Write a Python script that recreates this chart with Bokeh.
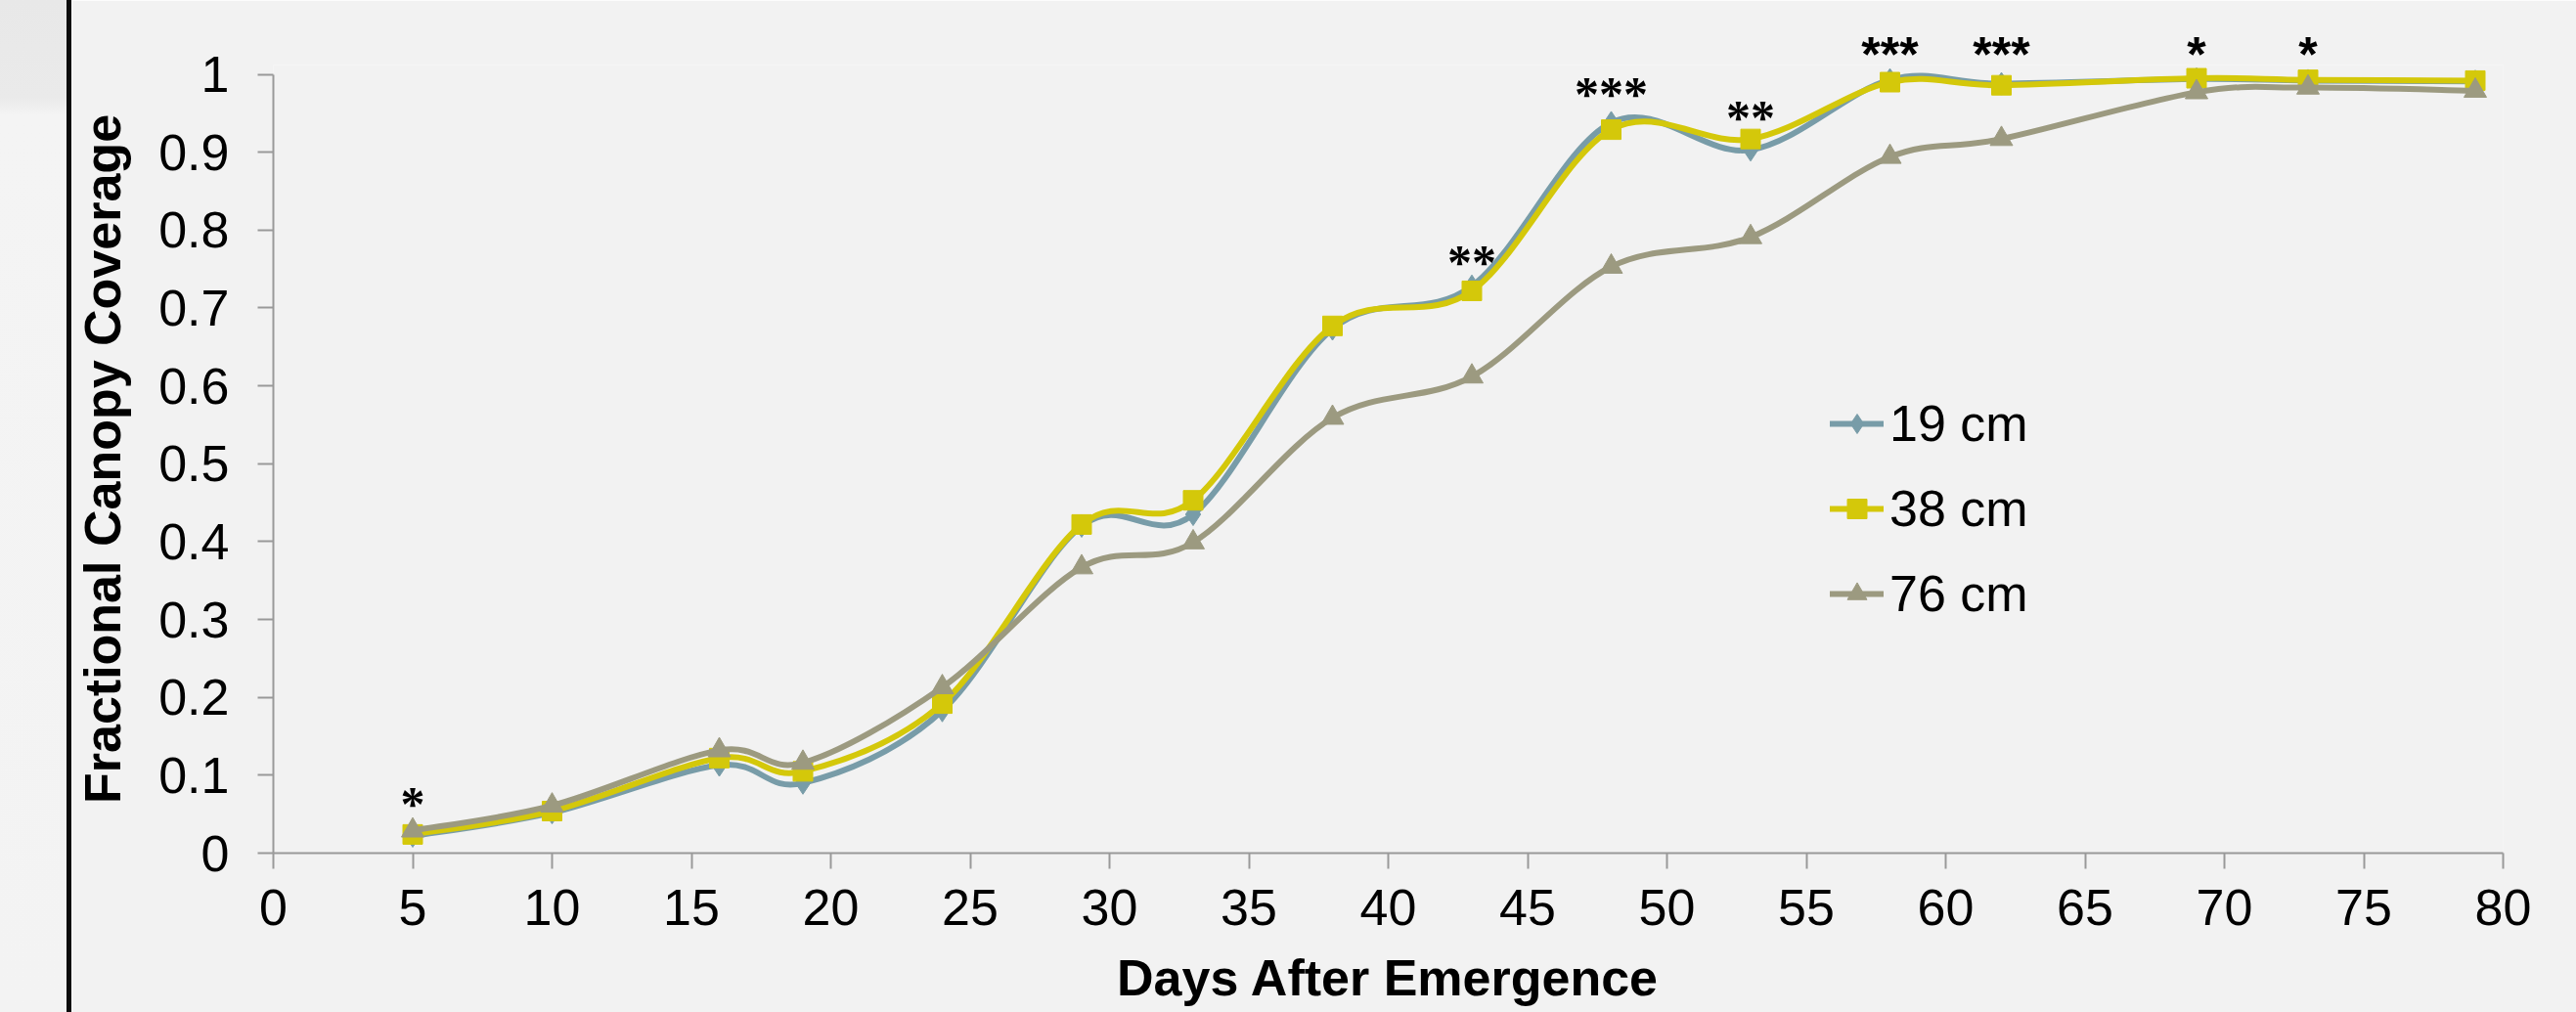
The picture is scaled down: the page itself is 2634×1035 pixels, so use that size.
import numpy as np
from bokeh.plotting import figure
from bokeh.models import (Range1d, FixedTicker, Legend, LegendItem, LinearAxis,
                          ColumnDataSource, LabelSet, Div)
from bokeh.layouts import row
from bokeh.embed import file_html
from bokeh.resources import INLINE

# ---------------- data ----------------
days = [5, 10, 16, 19, 24, 29, 33, 38, 43, 48, 53, 58, 62, 69, 73, 79]
cov_19cm = [0.022, 0.052, 0.113, 0.090, 0.183, 0.420, 0.435, 0.673, 0.728,
            0.938, 0.903, 0.993, 0.988, 0.994, 0.992, 0.991]
cov_38cm = [0.024, 0.054, 0.122, 0.105, 0.192, 0.422, 0.453, 0.677, 0.722,
            0.929, 0.917, 0.990, 0.986, 0.995, 0.993, 0.992]
cov_76cm = [0.029, 0.061, 0.132, 0.116, 0.213, 0.367, 0.399, 0.559, 0.612,
            0.753, 0.791, 0.894, 0.917, 0.977, 0.983, 0.979]

series_labels = ["19 cm", "38 cm", "76 cm"]
series_colors = ["#789ca8", "#d4c80a", "#9c9a80"]
series_markers = ["diamond", "square", "triangle"]

sig_days = [5, 43, 48, 53, 58, 62, 69, 73]
sig_text = ["*", "**", "***", "**", "***", "***", "*", "*"]
sig_y = [0.072, 0.768, 0.984, 0.954, 1.032, 1.028, 1.038, 1.040]

x_ticks = [0, 5, 10, 15, 20, 25, 30, 35, 40, 45, 50, 55, 60, 65, 70, 75, 80]
y_ticks = [0, 0.1, 0.2, 0.3, 0.4, 0.5, 0.6, 0.7, 0.8, 0.9, 1]
y_tick_labels = ["0", "0.1", "0.2", "0.3", "0.4", "0.5", "0.6", "0.7", "0.8", "0.9", "1"]

x_title = "Days After Emergence"
y_title = "Fractional Canopy Coverage"

FONT = "Liberation Sans"
BG = "#f2f2f2"
AX = "#999999"
marker_sizes = {"diamond": 23, "square": 20, "triangle": 23}
Y_TOP = 1.012


def smooth_source(xs, ys):
    """Bezier control points (Catmull-Rom style smoothing, like a smoothed line)."""
    P = np.column_stack([xs, ys]).astype(float)
    n = len(P)
    Pm = np.vstack([P[0], P, P[-1]])
    c0 = P[:-1] + (Pm[2:n + 1] - Pm[0:n - 1]) / 6.0
    c1 = P[1:] - (Pm[3:n + 2] - Pm[1:n]) / 6.0
    return ColumnDataSource(dict(
        x0=P[:-1, 0], y0=P[:-1, 1], x1=P[1:, 0], y1=P[1:, 1],
        cx0=c0[:, 0], cy0=c0[:, 1], cx1=c1[:, 0], cy1=c1[:, 1]))


fig = figure(width=2561, height=1035, output_backend="svg", toolbar_location=None,
             x_range=Range1d(0, 80), y_range=Range1d(0, Y_TOP),
             min_border_left=203, min_border_right=75,
             min_border_top=66, min_border_bottom=163)
fig.background_fill_color = BG
fig.border_fill_color = BG
fig.outline_line_color = None
fig.xgrid.visible = False
fig.ygrid.visible = False

items = []
for vals, lab, col, mk in zip([cov_19cm, cov_38cm, cov_76cm], series_labels,
                              series_colors, series_markers):
    bz = fig.bezier(x0="x0", y0="y0", x1="x1", y1="y1", cx0="cx0", cy0="cy0",
                    cx1="cx1", cy1="cy1", source=smooth_source(days, vals),
                    line_color=col, line_width=6, line_cap="round")
    sc = fig.scatter(days, vals, marker=mk, size=marker_sizes[mk],
                     fill_color=col, line_color=col, line_width=1)
    items.append(LegendItem(label=lab, renderers=[bz, sc]))

legend = Legend(items=items, location=(1592, 235), orientation="vertical",
                border_line_color=None, background_fill_alpha=0,
                padding=0, margin=0, spacing=27, glyph_width=55, glyph_height=50,
                label_height=60, label_standoff=6,
                label_text_font=FONT, label_text_font_size="52px",
                label_text_color="black")
fig.add_layout(legend)

# ---------------- axes ----------------
xax = fig.below[0]
yax = fig.left[0]
for ax in (xax, yax):
    ax.axis_line_color = AX
    ax.axis_line_width = 2
    ax.major_tick_line_color = AX
    ax.major_tick_line_width = 2
    ax.major_tick_in = 0
    ax.major_tick_out = 16
    ax.minor_tick_line_color = None
    ax.major_label_text_font = FONT
    ax.major_label_text_font_size = "52px"
    ax.major_label_text_color = "black"
    ax.axis_label_text_font = FONT
    ax.axis_label_text_font_size = "52px"
    ax.axis_label_text_font_style = "bold"
    ax.axis_label_text_color = "black"

xax.ticker = FixedTicker(ticks=x_ticks)
xax.major_label_standoff = 21
xax.axis_label = x_title
xax.axis_label_standoff = 22

yax.ticker = FixedTicker(ticks=y_ticks)
yax.major_label_overrides = {t: s for t, s in zip(y_ticks, y_tick_labels)}
yax.bounds = (0, 1)
yax.major_label_standoff = 29
yax.axis_label = y_title
yax.axis_label_standoff = 25

# significance stars: inside the plot area -> LabelSet, above it -> top axis labels
inner = [i for i, v in enumerate(sig_y) if v <= Y_TOP - 0.02]
outer = [i for i, v in enumerate(sig_y) if v > Y_TOP - 0.02]

stars = ColumnDataSource(dict(x=[sig_days[i] for i in inner],
                              y=[sig_y[i] for i in inner],
                              t=[sig_text[i] for i in inner]))
fig.add_layout(LabelSet(x="x", y="y", text="t", source=stars,
                        text_align="center", text_baseline="alphabetic",
                        y_offset=-24, text_font=FONT, text_font_size="50px",
                        text_font_style="bold", text_color="black"))

star_axis = LinearAxis(ticker=FixedTicker(ticks=[sig_days[i] for i in outer]),
                       major_label_overrides={sig_days[i]: sig_text[i] for i in outer},
                       axis_line_color=None, major_tick_line_color=None,
                       minor_tick_line_color=None, major_tick_in=0, major_tick_out=0,
                       major_label_standoff=-17,
                       major_label_text_font=FONT, major_label_text_font_size="50px",
                       major_label_text_font_style="bold",
                       major_label_text_color="black")
fig.add_layout(star_axis, "above")

strip = Div(width=73, height=1035, styles={
    "background": "linear-gradient(to right, rgba(0,0,0,0) 0px, rgba(0,0,0,0) 68px, "
                  "#0d0d0d 68px, #0d0d0d 73px), "
                  "linear-gradient(to bottom, #e8e8e8 0px, #eaeaea 100px, "
                  "#f4f4f4 118px, #f3f3f3 1035px)",
    "margin": "0", "padding": "0"})

p = row(strip, fig, spacing=0)

open("out.html", "w").write(file_html(p, INLINE))
